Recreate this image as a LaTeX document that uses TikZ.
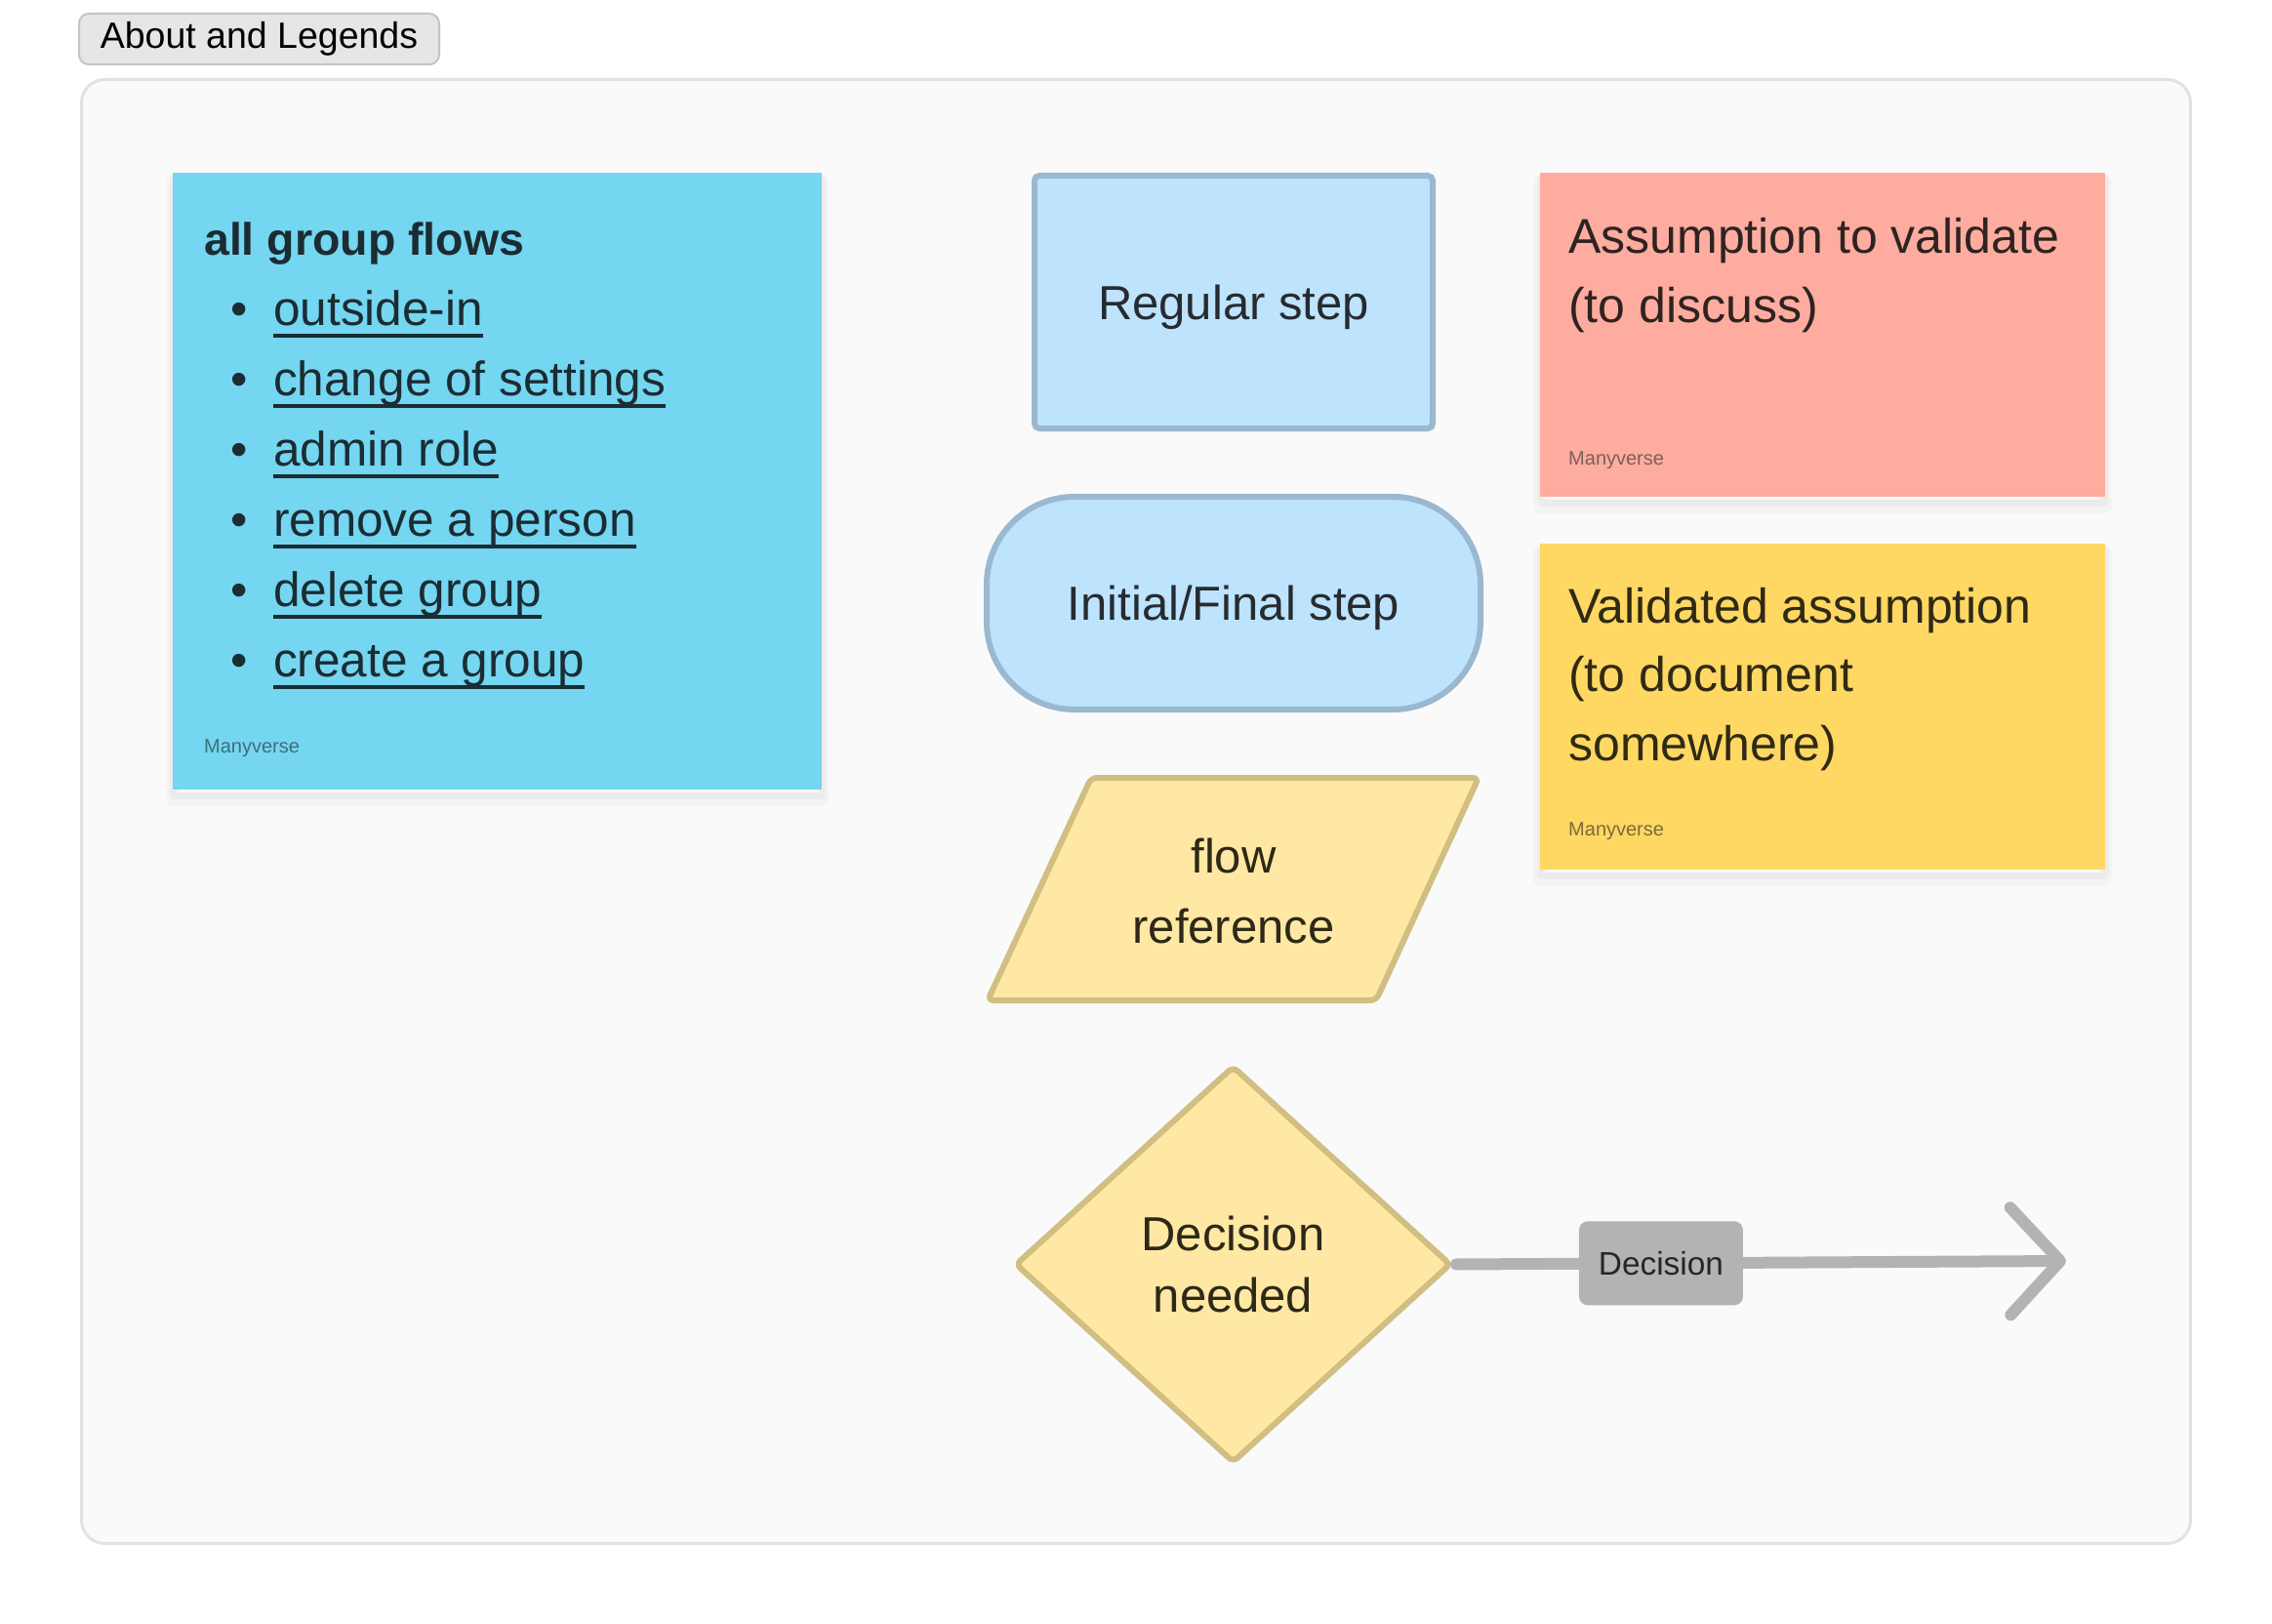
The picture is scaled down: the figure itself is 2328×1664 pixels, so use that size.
\documentclass[tikz,border=0pt]{standalone}
\usepackage{fontspec}
\setmainfont{Liberation Sans}
\usetikzlibrary{arrows.meta}
\usetikzlibrary{shapes.geometric}

\definecolor{notesky}{HTML}{74D6F0}
\definecolor{notesalmon}{HTML}{FFACA0}
\definecolor{notegold}{HTML}{FED862}
\definecolor{skyink}{HTML}{1B2C33}
\definecolor{skysign}{HTML}{3F6E7A}
\definecolor{salmonink}{HTML}{2E2320}
\definecolor{salmonsign}{HTML}{7D5F5A}
\definecolor{goldink}{HTML}{2F2A14}
\definecolor{goldsign}{HTML}{7A6B38}
\definecolor{stepfill}{HTML}{BEE3FC}
\definecolor{stepline}{HTML}{9AB8D0}
\definecolor{stepink}{HTML}{262B30}
\definecolor{flowfill}{HTML}{FFE8A3}
\definecolor{flowline}{HTML}{D1BE82}
\definecolor{flowink}{HTML}{2D2818}
\definecolor{connector}{HTML}{B3B3B3}
\definecolor{canvas}{HTML}{FAFAFA}
\definecolor{canvasline}{HTML}{E2E2E2}
\definecolor{buttonfill}{HTML}{E6E6E6}
\definecolor{buttonline}{HTML}{C4C4C4}

\newsavebox{\linkbox}
\newcommand{\flowlink}[1]{\hspace*{27pt}\makebox[44pt][l]{\textbullet}%
  \sbox{\linkbox}{#1}\usebox{\linkbox}\hspace{-\wd\linkbox}\rule[-12.5pt]{\wd\linkbox}{3.6pt}}

\tikzset{
  notebox/.style={rectangle, inner sep=0pt,
    preaction={draw=black, fill=none, draw opacity=0.025, line width=14pt, line join=round, transform canvas={yshift=-10pt}},
    preaction={draw=black, fill=none, draw opacity=0.03, line width=7pt, line join=round, transform canvas={yshift=-6pt}}},
  notetext/.style={anchor=base west, align=left, inner sep=0pt, font=\fontsize{50}{71}\selectfont},
  signature/.style={anchor=base west, inner sep=0pt, font=\fontsize{20}{24}\selectfont},
  stepbox/.style={draw=stepline, fill=stepfill, line width=6pt, text=stepink, text depth=0pt,
    font=\fontsize{49}{59}\selectfont},
  flowbox/.style={draw=flowline, fill=flowfill, line width=6pt, rounded corners=6pt, line join=round},
  flowtext/.style={text=flowink, align=center, font=\fontsize{49}{72}\selectfont},
  decisionbox/.style={diamond, draw=flowline, fill=flowfill, line width=6pt, rounded corners=6pt,
    minimum width=447pt, minimum height=407pt, inner sep=0pt, text=flowink, align=center,
    font=\fontsize{49}{63}\selectfont},
  verdictbox/.style={fill=connector, rounded corners=9pt, minimum width=168pt, minimum height=86pt,
    inner sep=0pt, text=black!85, font=\fontsize{33.4}{40}\selectfont},
  flowarrow/.style={draw=connector, line width=12pt, line cap=round, shorten <=2pt,
    -{Straight Barb[length=51pt, width=110pt, round]}},
  legendbutton/.style={draw=buttonline, fill=buttonfill, line width=2pt, rounded corners=10pt,
    minimum width=369pt, minimum height=52pt, inner sep=0pt, font=\fontsize{37.5}{45}\selectfont}
}

\begin{document}
\begin{tikzpicture}[x=1pt, y=-1pt]
\fill[white] (0,0) rectangle (2328,1664);
\useasboundingbox (0,0) rectangle (2328,1664);
\draw[draw=canvasline, fill=canvas, line width=3pt, rounded corners=24pt] (83.5,81.5) rectangle (2244.5,1581.5);
\node[legendbutton] (legends) at (265.5,40) {About and Legends};

\node[notebox, fill=notesky, minimum width=665pt, minimum height=632pt] (groupnote) at (509.5,493) {};
\node[notebox, fill=notesalmon, minimum width=579pt, minimum height=332pt] (assumenote) at (1867.5,343) {};
\node[notebox, fill=notegold, minimum width=579pt, minimum height=334pt] (validnote) at (1867.5,724) {};

\node[notetext, text=skyink, font=\fontsize{49.5}{72}\selectfont] (flowlist) at (209,693)
  {{\fontsize{46.5}{71}\selectfont\bfseries all group flows}\\
   \flowlink{outside-in}\\
   \flowlink{change of settings}\\
   \flowlink{admin role}\\
   \flowlink{remove a person}\\
   \flowlink{delete group}\\
   \flowlink{create a group}};
\node[signature, text=skysign] (skysig) at (209,771) {Manyverse};
\node[notetext, text=salmonink] (assume) at (1607,330) {Assumption to validate\\(to discuss)};
\node[signature, text=salmonsign] (salmonsig) at (1607,476) {Manyverse};
\node[notetext, text=goldink, font=\fontsize{50}{70.5}\selectfont] (valid) at (1607,779)
  {Validated assumption\\(to document\\somewhere)};
\node[signature, text=goldsign] (goldsig) at (1607,856) {Manyverse};

\node[stepbox, minimum width=408pt, minimum height=259pt, rounded corners=5pt] (regular) at (1264,309.5) {Regular step};
\node[stepbox, minimum width=506pt, minimum height=218pt, rounded corners=90pt] (terminal) at (1264,618) {Initial/Final step};

\draw[flowbox] (1118,797) -- (1515,797) -- (1410,1025) -- (1012,1025) -- cycle;
\node[flowtext] (flowref) at (1264,913) {flow\\reference};

\node[decisionbox] (decision) at (1263.5,1295.5) {Decision\\needed};
\coordinate (arrowend) at (2117,1292);
\draw[flowarrow] (decision.east) -- node[verdictbox, pos=0.338] (verdict) {Decision} (arrowend);
\end{tikzpicture}
\end{document}
